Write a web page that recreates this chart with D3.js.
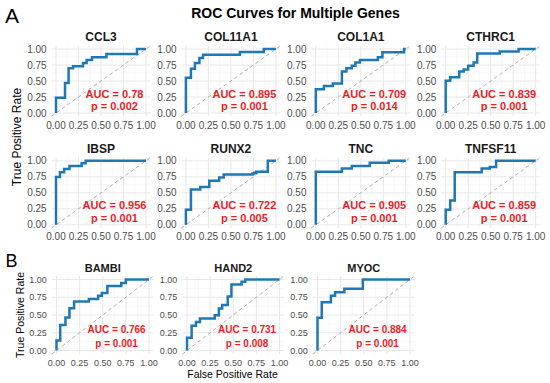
<!DOCTYPE html>
<html>
<head>
<meta charset="utf-8">
<script src="https://cdn.jsdelivr.net/npm/d3@7"></script>
<style>
  html, body { margin: 0; padding: 0; background: #fff; }
  svg { display: block; font-family: "Liberation Sans", Arial, Helvetica, sans-serif; }
</style>
</head>
<body>
<svg id="chart" width="550" height="383"></svg>
<script>
// ---------------- DATA ----------------
const mainTitle = "ROC Curves for Multiple Genes";
const genesA = ["CCL3", "COL11A1", "COL1A1", "CTHRC1", "IBSP", "RUNX2", "TNC", "TNFSF11"];
const aucA   = ["0.78", "0.895", "0.709", "0.839", "0.956", "0.722", "0.905", "0.859"];
const pA     = ["0.002", "0.001", "0.014", "0.001", "0.001", "0.005", "0.001", "0.001"];
const genesB = ["BAMBI", "HAND2", "MYOC"];
const aucB   = ["0.766", "0.731", "0.884"];
const pB     = ["0.001", "0.008", "0.001"];
const tickValues = [0, 0.25, 0.5, 0.75, 1];
const tickLabels = ["0.00", "0.25", "0.50", "0.75", "1.00"];
const minorTicks = [0.125, 0.375, 0.625, 0.875];

// ROC step points: [false positive rate, true positive rate] where TPR jumps
const rocCCL3    = [[0,0],[0,0.24],[0.10,0.47],[0.14,0.70],[0.19,0.73],[0.30,0.78],[0.34,0.83],[0.40,0.87],[0.56,0.92],[0.90,1],[1,1]];
const rocCOL11A1 = [[0,0],[0,0.55],[0.056,0.69],[0.10,0.78],[0.15,0.86],[0.19,0.91],[0.60,0.955],[0.865,1],[1,1]];
const rocCOL1A1  = [[0,0],[0,0.37],[0.09,0.42],[0.19,0.46],[0.29,0.65],[0.34,0.70],[0.40,0.74],[0.44,0.79],[0.49,0.83],[0.69,0.87],[0.74,0.95],[0.98,1],[1,1]];
const rocCTHRC1  = [[0,0],[0,0.505],[0.05,0.56],[0.15,0.65],[0.20,0.68],[0.25,0.74],[0.31,0.79],[0.35,0.93],[0.60,0.96],[0.81,1],[1,1]];
const rocIBSP    = [[0,0],[0,0.745],[0.044,0.82],[0.09,0.87],[0.15,0.92],[0.285,0.96],[0.33,1],[1,1]];
const rocRUNX2   = [[0,0],[0,0.235],[0.056,0.55],[0.16,0.59],[0.26,0.69],[0.37,0.74],[0.42,0.785],[0.74,0.80],[0.76,0.815],[0.78,0.83],[0.91,1],[1,1]];
const rocTNC     = [[0,0],[0,0.83],[0.29,0.88],[0.40,0.92],[0.60,0.97],[0.81,1],[1,1]];
const rocTNFSF11 = [[0,0],[0,0.235],[0.05,0.38],[0.10,0.82],[0.40,0.88],[0.49,0.905],[0.56,1],[1,1]];
const rocBAMBI   = [[0,0],[0,0.14],[0.04,0.36],[0.097,0.465],[0.14,0.595],[0.19,0.69],[0.35,0.725],[0.45,0.77],[0.49,0.81],[0.55,0.91],[0.70,0.95],[0.75,1],[1,1]];
const rocHAND2   = [[0,0],[0,0.18],[0.05,0.35],[0.097,0.40],[0.14,0.45],[0.30,0.495],[0.345,0.59],[0.38,0.64],[0.44,0.76],[0.48,0.93],[0.59,0.97],[0.63,1],[1,1]];
const rocMYOC    = [[0,0],[0,0.46],[0.046,0.68],[0.145,0.77],[0.19,0.82],[0.29,0.87],[0.49,1],[1,1]];

const rocA = [rocCCL3, rocCOL11A1, rocCOL1A1, rocCTHRC1, rocIBSP, rocRUNX2, rocTNC, rocTNFSF11];
const rocB = [rocBAMBI, rocHAND2, rocMYOC];

// ---------------- STYLE / LAYOUT ----------------
const curveColor = "#1f77b4";
const annColor = "#ee1c25";
const tickColor = "#4d4d4d";
const svg = d3.select("#chart");

function drawPanel(cfg) {
  const x = d3.scaleLinear().domain([0, 1]).range([cfg.x0, cfg.x0 + cfg.w]);
  const y = d3.scaleLinear().domain([0, 1]).range([cfg.yTop + cfg.h, cfg.yTop]);
  const lo = -0.05, hi = 1.05;
  const g = svg.append("g");

  // minor grid
  minorTicks.forEach(t => {
    g.append("line").attr("x1", x(t)).attr("x2", x(t)).attr("y1", y(lo)).attr("y2", y(hi))
      .attr("stroke", "#f3f3f3").attr("stroke-width", 0.6);
    g.append("line").attr("y1", y(t)).attr("y2", y(t)).attr("x1", x(lo)).attr("x2", x(hi))
      .attr("stroke", "#f3f3f3").attr("stroke-width", 0.6);
  });
  // major grid
  tickValues.forEach(t => {
    g.append("line").attr("x1", x(t)).attr("x2", x(t)).attr("y1", y(lo)).attr("y2", y(hi))
      .attr("stroke", "#e8e8e8").attr("stroke-width", 1);
    g.append("line").attr("y1", y(t)).attr("y2", y(t)).attr("x1", x(lo)).attr("x2", x(hi))
      .attr("stroke", "#e8e8e8").attr("stroke-width", 1);
  });

  // diagonal reference
  g.append("line").attr("x1", x(lo)).attr("y1", y(lo)).attr("x2", x(hi)).attr("y2", y(hi))
    .attr("stroke", "#a6a6a6").attr("stroke-width", 0.9).attr("stroke-dasharray", "3.5,3");

  // ROC curve
  const line = d3.line().x(d => x(d[0])).y(d => y(d[1])).curve(d3.curveStepAfter);
  g.append("path").datum(cfg.roc).attr("d", line)
    .attr("fill", "none").attr("stroke", curveColor).attr("stroke-width", 2.5)
    .attr("stroke-linejoin", "miter");

  // tick labels
  tickValues.forEach((t, i) => {
    g.append("text").attr("x", x(t)).attr("y", y(0) + cfg.xLabOff)
      .attr("text-anchor", "middle").attr("font-size", cfg.tickSize).attr("fill", tickColor)
      .text(tickLabels[i]);
    g.append("text").attr("x", x(0) - cfg.yLabOff).attr("y", y(t))
      .attr("dy", "0.35em").attr("text-anchor", "end").attr("font-size", cfg.tickSize).attr("fill", tickColor)
      .text(tickLabels[i]);
  });

  // panel title
  g.append("text").attr("x", cfg.x0 + cfg.w / 2).attr("y", cfg.yTop - cfg.titleOff)
    .attr("text-anchor", "middle").attr("font-size", cfg.titleSize).attr("font-weight", "bold")
    .attr("fill", "#1a1a1a").text(cfg.gene);

  // annotations
  g.append("text").attr("x", x(0.65)).attr("y", y(0.3)).attr("dy", "0.35em")
    .attr("text-anchor", "middle").attr("font-size", cfg.annSize).attr("font-weight", "bold")
    .attr("fill", annColor).text("AUC = " + cfg.auc);
  g.append("text").attr("x", x(0.65)).attr("y", y(0.1)).attr("dy", "0.35em")
    .attr("text-anchor", "middle").attr("font-size", cfg.annSize).attr("font-weight", "bold")
    .attr("fill", annColor).text("p = " + cfg.p);
}

// Section A
genesA.forEach((gene, i) => {
  const col = i % 4, row = Math.floor(i / 4);
  drawPanel({
    gene, auc: aucA[i], p: pA[i], roc: rocA[i],
    x0: 56 + col * 129.9, w: 90,
    yTop: row === 0 ? 49 : 160.8, h: 64,
    tickSize: 10, titleSize: 12, annSize: 11,
    xLabOff: 15.5, yLabOff: 9.3, titleOff: 8
  });
});

// Section B
genesB.forEach((gene, i) => {
  drawPanel({
    gene, auc: aucB[i], p: pB[i], roc: rocB[i],
    x0: 56.5 + i * 130.5, w: 92.5,
    yTop: 279.5, h: 71,
    tickSize: 9, titleSize: 11, annSize: 10,
    xLabOff: 15.5, yLabOff: 9.6, titleOff: 7.7
  });
});

// Main title
svg.append("text").attr("x", 295.5).attr("y", 18.3).attr("text-anchor", "middle")
  .attr("font-size", 14).attr("font-weight", "bold").attr("fill", "#000").text(mainTitle);

// Section letters
svg.append("text").attr("x", 5).attr("y", 23).attr("font-size", 21).attr("fill", "#000").text("A");
svg.append("text").attr("x", 5.5).attr("y", 266.5).attr("font-size", 18).attr("fill", "#000").text("B");

// Axis titles
svg.append("text").attr("transform", "translate(16.5,137) rotate(-90)").attr("dy", "0.35em")
  .attr("text-anchor", "middle").attr("font-size", 12).attr("fill", "#000").text("True Positive Rate");
svg.append("text").attr("transform", "translate(20,315) rotate(-90)").attr("dy", "0.35em")
  .attr("text-anchor", "middle").attr("font-size", 10.5).attr("fill", "#000").text("True Positive Rate");
svg.append("text").attr("x", 232.5).attr("y", 378).attr("text-anchor", "middle")
  .attr("font-size", 10.5).attr("fill", "#000").text("False Positive Rate");
</script>
</body>
</html>
